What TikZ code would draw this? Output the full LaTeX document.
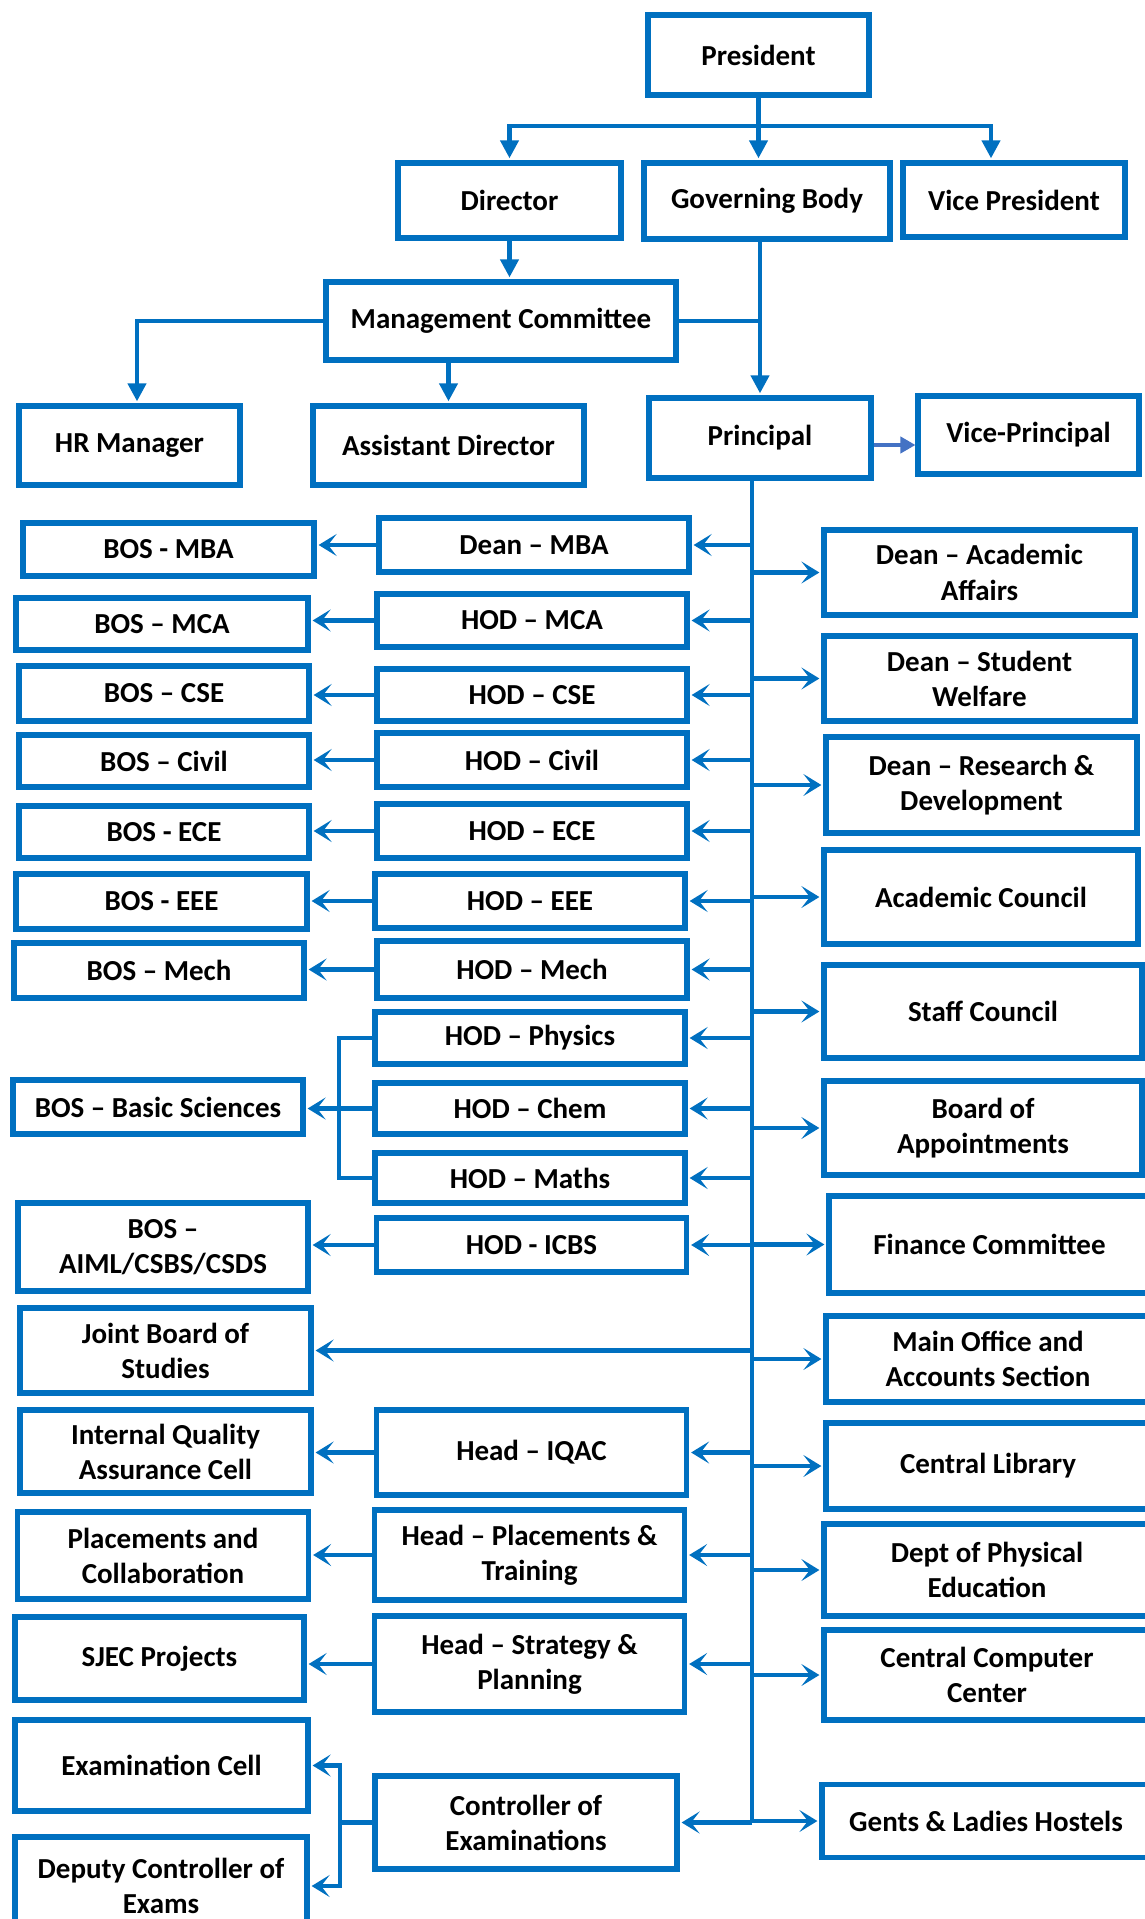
\documentclass[tikz,border=0pt]{standalone}
\usepackage{fontspec}
\setmainfont{Carlito}
\usetikzlibrary{arrows.meta,calc}
\definecolor{SjecBlue}{HTML}{0070C0}
\definecolor{SjecLight}{HTML}{4472C4}

\begin{document}
\begin{tikzpicture}[
    x=0.02cm, y=-0.02cm,
    box/.style={
      draw=SjecBlue,
      fill=white,
      line width=2.9pt,
      align=center,
      inner sep=2pt,
      font=\bfseries\fontsize{16.5}{20}\selectfont
    },
    link/.style={
      line width=2.4pt,
      draw=SjecBlue
    },
    toparrow/.style={
      link,
      -{Triangle[length=0.36cm,width=0.36cm]},
      shorten >=1.2pt
    },
    sidearrow/.style={
      link,
      -{Stealth[length=0.36cm,width=0.44cm,inset=0.17cm]},
      shorten >=1.2pt
    }]

    \useasboundingbox (0,0) rectangle (1144,1919);

    % Top level
    \node[box,minimum width=4.42cm,minimum height=1.6cm] (pres) at (758.5,55) {President};
    \node[box,minimum width=4.46cm,minimum height=1.5cm] (dir) at (509.5,200.5) {Director};
    \node[box,minimum width=4.92cm,minimum height=1.52cm] (gov) at (767,201) {Governing Body};
    \node[box,minimum width=4.44cm,minimum height=1.48cm] (vp) at (1014,200) {Vice President};
    \node[box,minimum width=7cm,minimum height=1.56cm] (mc) at (501,321) {Management Committee};
    \node[box,minimum width=4.42cm,minimum height=1.58cm] (hr) at (129.5,445.5) {HR Manager};
    \node[box,minimum width=5.42cm,minimum height=1.58cm] (ad) at (448.5,445.5) {Assistant Director};
    \node[box,minimum width=4.44cm,minimum height=1.6cm] (prin) at (760,438) {Principal};
    \node[box,minimum width=4.42cm,minimum height=1.56cm] (vprin) at (1028.5,435) {Vice-Principal};

    % Heads under the Principal
    \node[box,minimum width=6.2cm,minimum height=1.08cm] (hmba) at (534,545) {Dean – MBA};
    \node[box,minimum width=6.2cm,minimum height=1.06cm] (hmca) at (532,620.5) {HOD – MCA};
    \node[box,minimum width=6.2cm,minimum height=1.04cm] (hcse) at (532,695) {HOD – CSE};
    \node[box,minimum width=6.2cm,minimum height=1.08cm] (hciv) at (532,760) {HOD – Civil};
    \node[box,minimum width=6.2cm,minimum height=1.08cm] (hece) at (532,831) {HOD – ECE};
    \node[box,minimum width=6.2cm,minimum height=1.08cm] (heee) at (530,901) {HOD – EEE};
    \node[box,minimum width=6.2cm,minimum height=1.14cm] (hmech) at (532,969.5) {HOD – Mech};
    \node[box,minimum width=6.2cm,minimum height=1.04cm] (hphy) at (530,1038) {HOD – Physics};
    \node[box,minimum width=6.2cm,minimum height=1.02cm] (hchem) at (530,1108.5) {HOD – Chem};
    \node[box,minimum width=6.2cm,minimum height=1cm] (hmath) at (530,1178) {HOD – Maths};
    \node[box,minimum width=6.2cm,minimum height=1.08cm] (hicbs) at (531.5,1245) {HOD - ICBS};
    \node[box,minimum width=6.2cm,minimum height=1.7cm] (hiqac) at (531.5,1452.5) {Head – IQAC};
    \node[box,minimum width=6.2cm,minimum height=1.8cm] (hplace) at (529.5,1555) {Head – Placements \&\\Training};
    \node[box,minimum width=6.2cm,minimum height=1.92cm] (hstrat) at (529.5,1664) {Head – Strategy \&\\Planning};
    \node[box,minimum width=6.04cm,minimum height=1.86cm] (ctrl) at (526,1822.5) {Controller of\\Examinations};

    % Boards and cells on the left
    \node[box,minimum width=5.82cm,minimum height=1.06cm] (bmba) at (168.5,549.5) {BOS - MBA};
    \node[box,minimum width=5.84cm,minimum height=1.04cm] (bmca) at (162,624) {BOS – MCA};
    \node[box,minimum width=5.8cm,minimum height=1.1cm] (bcse) at (164,693.5) {BOS – CSE};
    \node[box,minimum width=5.8cm,minimum height=1.04cm] (bciv) at (164,761) {BOS – Civil};
    \node[box,minimum width=5.8cm,minimum height=1.04cm] (bece) at (164,832) {BOS - ECE};
    \node[box,minimum width=5.82cm,minimum height=1.1cm] (beee) at (161.5,901.5) {BOS - EEE};
    \node[box,minimum width=5.8cm,minimum height=1.1cm] (bmech) at (159,970.5) {BOS – Mech};
    \node[box,minimum width=5.8cm,minimum height=1.08cm] (bbasic) at (158,1107) {BOS – Basic Sciences};
    \node[box,minimum width=5.8cm,minimum height=1.76cm] (baiml) at (163,1247) {BOS –\\AIML/CSBS/CSDS};
    \node[box,minimum width=5.82cm,minimum height=1.7cm] (jbs) at (165.5,1350.5) {Joint Board of\\Studies};
    \node[box,minimum width=5.82cm,minimum height=1.66cm] (iqac) at (165.5,1451.5) {Internal Quality\\Assurance Cell};
    \node[box,minimum width=5.82cm,minimum height=1.74cm] (place) at (163,1555.5) {Placements and\\Collaboration};
    \node[box,minimum width=5.78cm,minimum height=1.66cm] (sjec) at (159.5,1658.5) {SJEC Projects};
    \node[box,minimum width=5.86cm,minimum height=1.82cm] (exam) at (161.5,1765.5) {Examination Cell};
    \node[box,minimum width=5.84cm,minimum height=1.96cm] (dctrl) at (161,1886) {Deputy Controller of\\Exams};

    % Bodies on the right
    \node[box,minimum width=6.22cm,minimum height=1.7cm] (daa) at (979.5,572.5) {Dean – Academic\\Affairs};
    \node[box,minimum width=6.22cm,minimum height=1.7cm] (dsw) at (979.5,678.5) {Dean – Student\\Welfare};
    \node[box,minimum width=6.22cm,minimum height=1.92cm] (drd) at (981.5,785) {Dean – Research \&\\Development};
    \node[box,minimum width=6.28cm,minimum height=1.88cm] (acc) at (981,897) {Academic Council};
    \node[box,minimum width=6.36cm,minimum height=1.86cm] (stc) at (983,1011.5) {Staff Council};
    \node[box,minimum width=6.36cm,minimum height=1.88cm] (boa) at (983,1128) {Board of\\Appointments};
    \node[box,minimum width=6.42cm,minimum height=1.94cm] (fin) at (989.5,1244.5) {Finance Committee};
    \node[box,minimum width=6.48cm,minimum height=1.72cm] (moff) at (988,1359) {Main Office and\\Accounts Section};
    \node[box,minimum width=6.48cm,minimum height=1.72cm] (lib) at (988,1466) {Central Library};
    \node[box,minimum width=6.52cm,minimum height=1.84cm] (dpe) at (987,1570) {Dept of Physical\\Education};
    \node[box,minimum width=6.52cm,minimum height=1.8cm] (ccc) at (987,1675) {Central Computer\\Center};
    \node[box,minimum width=6.56cm,minimum height=1.46cm] (host) at (986,1821) {Gents \& Ladies Hostels};

    % Helper columns for the spine and the brackets
    \coordinate (bar) at (759,126);
    \coordinate (sp) at (752,0);
    \coordinate (bsx) at (339,0);
    \coordinate (exx) at (340,0);

    % President down to the three boxes
    \draw[link] (pres.south) -- (pres.south |- bar);
    \draw[toparrow] (pres.south |- bar) -- (pres.south |- gov.north);
    \draw[toparrow] (pres.south |- bar) -| (dir.north);
    \draw[toparrow] (pres.south |- bar) -| ([xshift=-0.46cm]vp.north);

    % Director, committee and principal
    \draw[toparrow] (dir.south) -- (dir.south |- mc.north);
    \draw[toparrow] (mc.west) -| ([xshift=0.15cm]hr.north);
    \draw[toparrow] (ad.north |- mc.south) -- (ad.north);
    \draw[link] (mc.east) -- (mc.east -| prin.north);
    \draw[toparrow] (prin.north |- gov.south) -- (prin.north);
    \draw[link,draw=SjecLight,-{Triangle[length=0.3cm,width=0.32cm]}] ([yshift=-0.14cm]prin.east) -- ([yshift=-0.14cm]prin.east -| vprin.west);

    % Spine
    \draw[link] (sp |- prin.south) -- (sp |- ctrl.east);

    % Spine to the heads
    \draw[sidearrow] (sp |- hmba.east) -- (hmba.east);
    \draw[sidearrow] (sp |- hmca.east) -- (hmca.east);
    \draw[sidearrow] (sp |- hcse.east) -- (hcse.east);
    \draw[sidearrow] (sp |- hciv.east) -- (hciv.east);
    \draw[sidearrow] (sp |- hece.east) -- (hece.east);
    \draw[sidearrow] (sp |- heee.east) -- (heee.east);
    \draw[sidearrow] (sp |- hmech.east) -- (hmech.east);
    \draw[sidearrow] (sp |- hphy.east) -- (hphy.east);
    \draw[sidearrow] (sp |- hchem.east) -- (hchem.east);
    \draw[sidearrow] (sp |- hmath.east) -- (hmath.east);
    \draw[sidearrow] (sp |- hicbs.east) -- (hicbs.east);
    \draw[sidearrow] (sp |- jbs.east) -- (jbs.east);
    \draw[sidearrow] (sp |- hiqac.east) -- (hiqac.east);
    \draw[sidearrow] (sp |- hplace.east) -- (hplace.east);
    \draw[sidearrow] (sp |- hstrat.east) -- (hstrat.east);
    \draw[sidearrow] (sp |- ctrl.east) -- (ctrl.east);

    % Spine to the right column
    \draw[sidearrow] (sp |- daa.west) -- (daa.west);
    \draw[sidearrow] (sp |- dsw.west) -- (dsw.west);
    \draw[sidearrow] (sp |- drd.west) -- (drd.west);
    \draw[sidearrow] (sp |- acc.west) -- (acc.west);
    \draw[sidearrow] (sp |- stc.west) -- (stc.west);
    \draw[sidearrow] (sp |- boa.west) -- (boa.west);
    \draw[sidearrow] (sp |- fin.west) -- (fin.west);
    \draw[sidearrow] (sp |- moff.west) -- (moff.west);
    \draw[sidearrow] (sp |- lib.west) -- (lib.west);
    \draw[sidearrow] (sp |- dpe.west) -- (dpe.west);
    \draw[sidearrow] (sp |- ccc.west) -- (ccc.west);
    \draw[sidearrow] (sp |- host.west) -- (host.west);

    % Heads to the boards on the left
    \draw[sidearrow] (hmba.west) -- (hmba.west -| bmba.east);
    \draw[sidearrow] (hmca.west) -- (hmca.west -| bmca.east);
    \draw[sidearrow] (hcse.west) -- (hcse.west -| bcse.east);
    \draw[sidearrow] (hciv.west) -- (hciv.west -| bciv.east);
    \draw[sidearrow] (hece.west) -- (hece.west -| bece.east);
    \draw[sidearrow] (heee.west) -- (heee.west -| beee.east);
    \draw[sidearrow] (hmech.west) -- (hmech.west -| bmech.east);
    \draw[sidearrow] (hicbs.west) -- (hicbs.west -| baiml.east);
    \draw[sidearrow] (hiqac.west) -- (hiqac.west -| iqac.east);
    \draw[sidearrow] (hplace.west) -- (hplace.west -| place.east);
    \draw[sidearrow] (hstrat.west) -- (hstrat.west -| sjec.east);

    % Basic sciences bracket
    \draw[link] (hphy.west) -| (bsx |- hmath.west) -- (hmath.west);
    \draw[sidearrow] (hchem.west) -- (hchem.west -| bbasic.east);

    % Examinations bracket
    \draw[link] (ctrl.west) -- (exx |- ctrl.west);
    \draw[sidearrow] (exx |- ctrl.west) |- (exam.east);
    \draw[sidearrow] (exx |- ctrl.west) |- (dctrl.east);
  \end{tikzpicture}
\end{document}
